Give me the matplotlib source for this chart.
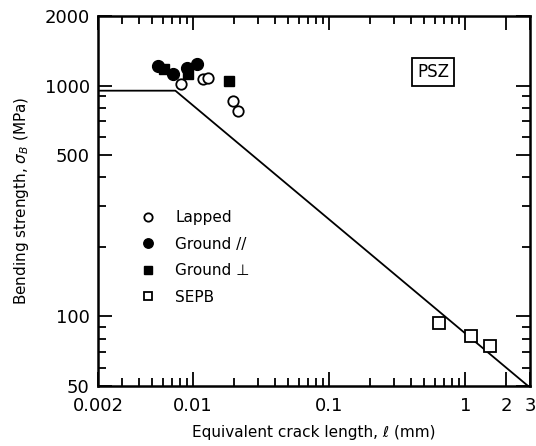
import matplotlib.pyplot as plt
from matplotlib.ticker import LogLocator, NullFormatter

# data (crack length in mm, strength in MPa)
lapped_x = [0.0081, 0.0118, 0.0129, 0.0197, 0.0214]
lapped_y = [1015, 1067, 1078, 857, 775]

ground_par_x = [0.0055, 0.0071, 0.0090, 0.0107]
ground_par_y = [1214, 1122, 1190, 1239]

ground_perp_x = [0.0061, 0.0092, 0.0184]
ground_perp_y = [1178, 1122, 1045]

sepb_x = [0.643, 1.11, 1.52]
sepb_y = [93.7, 82.3, 74.5]

# fracture-mechanics prediction line
line_x = [0.002, 0.0074, 2.9]
line_y = [950, 950, 50]

xticks = [0.002, 0.01, 0.1, 1, 2, 3]
xticklabels = ['0.002', '0.01', '0.1', '1', '2', '3']
yticks = [50, 100, 500, 1000, 2000]
yticklabels = ['50', '100', '500', '1000', '2000']

plt.rcParams['font.family'] = 'DejaVu Sans'

fig = plt.figure(figsize=(5.36, 4.46), dpi=100)
ax = fig.add_axes([0.183, 0.1345, 0.806, 0.8296])

ax.plot(line_x, line_y, color='black', lw=1.3)

ax.plot(lapped_x, lapped_y, 'o', mfc='white', mec='black', mew=1.3, ms=7.5,
        ls='none', label='Lapped')
ax.plot(ground_par_x, ground_par_y, 'o', color='black', ms=8.5,
        ls='none', label='Ground //')
ax.plot(ground_perp_x, ground_perp_y, 's', color='black', ms=7,
        ls='none', label='Ground \u22a5')
ax.plot(sepb_x, sepb_y, 's', mfc='white', mec='black', mew=1.3, ms=8,
        ls='none', label='SEPB')

ax.set_xscale('log')
ax.set_yscale('log')
ax.set_xlim(0.002, 3)
ax.set_ylim(50, 2000)

ax.set_xticks(xticks)
ax.set_xticklabels(xticklabels)
ax.set_yticks(yticks)
ax.set_yticklabels(yticklabels)
ax.xaxis.set_minor_locator(LogLocator(base=10, subs=range(2, 10), numticks=20))
ax.yaxis.set_minor_locator(LogLocator(base=10, subs=range(2, 10), numticks=20))
ax.xaxis.set_minor_formatter(NullFormatter())
ax.yaxis.set_minor_formatter(NullFormatter())

ax.tick_params(which='both', direction='in', top=True, right=True,
               width=1.3, labelsize=13)
ax.tick_params(which='major', length=10)
ax.tick_params(which='minor', length=6)
ax.tick_params(axis='x', which='major', pad=8)
ax.tick_params(axis='y', which='major', pad=6)
for sp in ax.spines.values():
    sp.set_linewidth(1.8)

ax.set_xlabel('Equivalent crack length, \u2113 (mm)', fontsize=11, labelpad=7)
ax.set_ylabel(r'Bending strength, $\sigma_B$ (MPa)', fontsize=11, labelpad=10)

ax.text(0.775, 0.85, 'PSZ', transform=ax.transAxes, fontsize=12,
        ha='center', va='center',
        bbox=dict(boxstyle='square,pad=0.3', fc='white', ec='black', lw=1.3))

ax.legend(loc='upper left', bbox_to_anchor=(0.0985, 0.475), frameon=False,
          fontsize=11, markerscale=0.8, handlelength=1.0, handletextpad=1.25,
          labelspacing=0.75, borderpad=0, borderaxespad=0)

fig.savefig('out.png', dpi=100)
